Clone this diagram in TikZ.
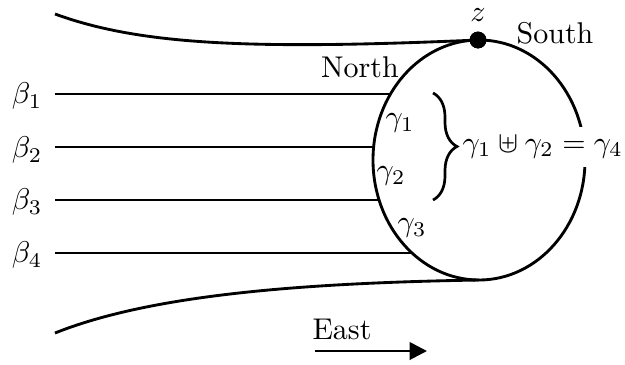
\documentclass[tikz,border=0pt]{standalone}
\usetikzlibrary{arrows.meta,decorations.pathreplacing}
\begin{document}
\begin{tikzpicture}[x=0.33333pt,y=-0.33333pt,
  curve/.style={line width=0.95pt},
  lbl/.style={inner sep=0pt}]
\useasboundingbox (0,0) rectangle (625,364);
% outer curves
\coordinate (tl) at (55,14);
\coordinate (bl) at (55,333);
\coordinate (bot) at (479,280);
\node[circle,fill=black,inner sep=0pt,minimum size=5.6pt] (z) at (478,40) {};
\draw[curve] (tl) .. controls (140,45) and (250,50) .. (z.center);
\draw[curve] (bl) .. controls (150,295) and (300,283) .. (bot);
% ellipse
\draw[curve] (479,160) ellipse [x radius=35.333pt, y radius=40pt];
\node[circle,fill=black,inner sep=0pt,minimum size=5.6pt] at (478,40) {};
% beta lines
\node[lbl] (b1) at (27,96) {$\beta_1$};
\node[lbl] (b2) at (27,150) {$\beta_2$};
\node[lbl] (b3) at (27,202) {$\beta_3$};
\node[lbl] (b4) at (27,255) {$\beta_4$};
\coordinate (s1) at (55,94);  \coordinate (e1) at (390.5,94);
\coordinate (s2) at (55,147); \coordinate (e2) at (373.6,147);
\coordinate (s3) at (55,200); \coordinate (e3) at (379.1,200);
\coordinate (s4) at (55,253); \coordinate (e4) at (412,253);
\draw[curve] (s1) -- (e1);
\draw[curve] (s2) -- (e2);
\draw[curve] (s3) -- (e3);
\draw[curve] (s4) -- (e4);
% labels
\node[lbl] (zl) at (478,15) {$z$};
\node[lbl] (south) at (555,33) {South};
\node[lbl] (north) at (360,67) {North};
\node[lbl] (g1) at (400,123) {$\gamma_1$};
\node[lbl] (g2) at (391,176) {$\gamma_2$};
\node[lbl] (g3) at (412,228) {$\gamma_3$};
% brace
\coordinate (bt) at (433,93);
\coordinate (bb) at (433,200);
\draw[line width=0.9pt,decorate,decoration={brace,amplitude=8pt}] (bt) -- (bb);
\node[fill=white,inner xsep=1pt,inner ysep=3pt,anchor=west] (eq) at (459,147) {$\gamma_1 \uplus \gamma_2 = \gamma_4$};
% East arrow
\node[lbl] (east) at (342,329) {East};
\coordinate (as) at (315,351);
\coordinate (ae) at (427,351);
\draw[curve,-{Triangle[length=5.8pt,width=5.8pt]}] (as) -- (ae);
\end{tikzpicture}
\end{document}
